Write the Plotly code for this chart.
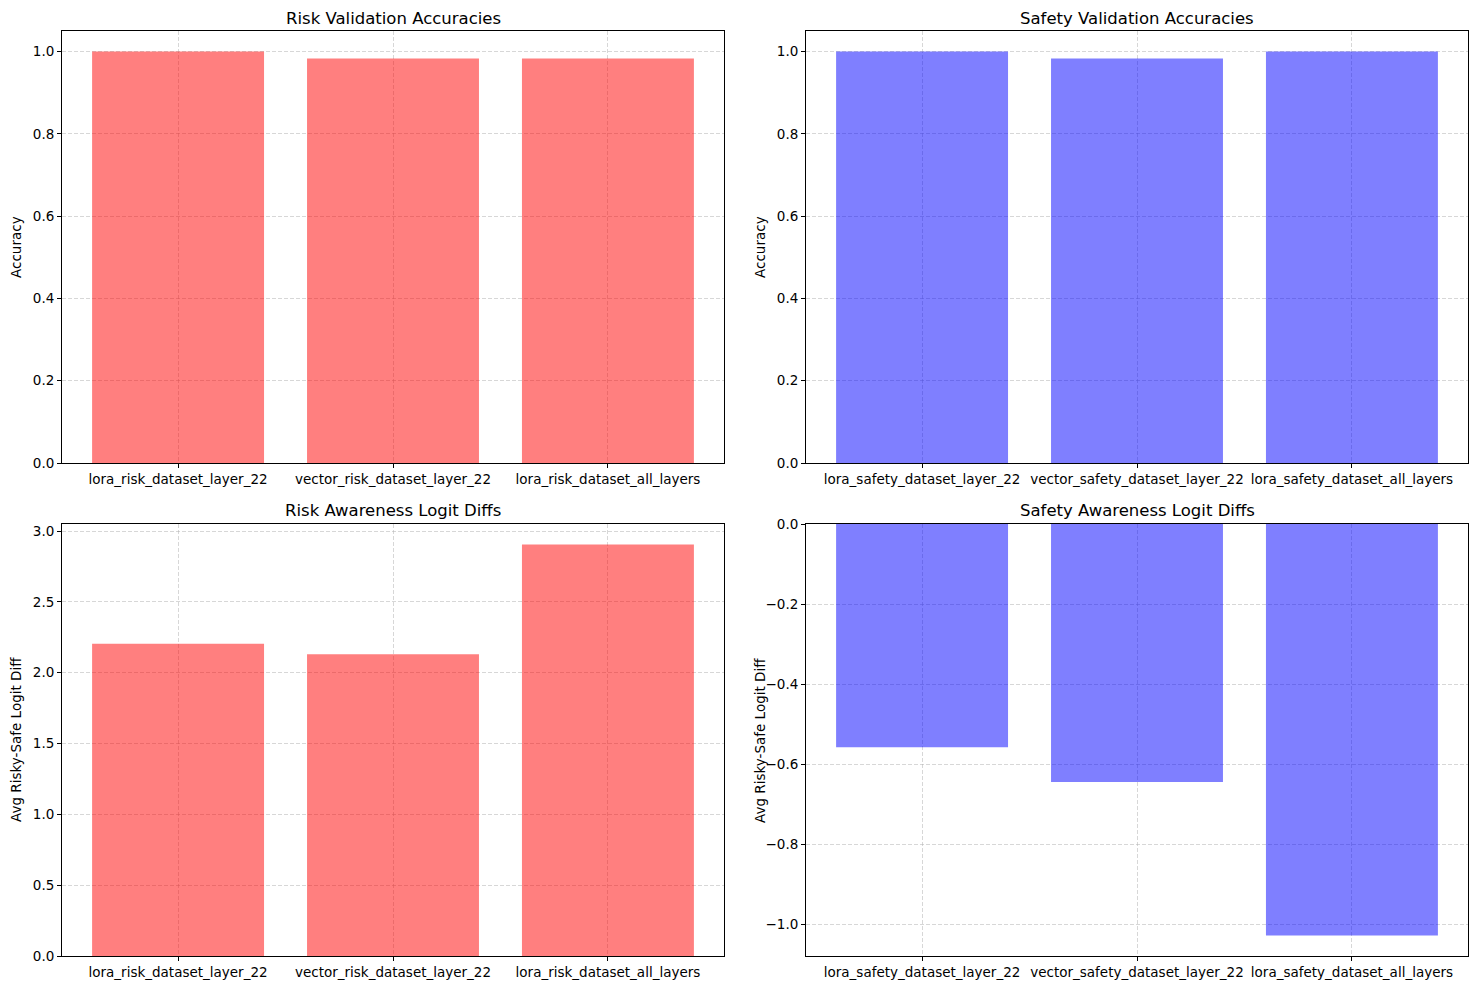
import plotly.graph_objects as go

W, H = 1478, 988

risk_models = ["lora_risk_dataset_layer_22", "vector_risk_dataset_layer_22", "lora_risk_dataset_all_layers"]
safety_models = ["lora_safety_dataset_layer_22", "vector_safety_dataset_layer_22", "lora_safety_dataset_all_layers"]

risk_acc = [1.0, 0.983, 0.983]
safety_acc = [1.0, 0.983, 1.0]
risk_logit = [2.205, 2.13, 2.905]
safety_logit = [-0.557, -0.644, -1.027]

acc_ticks = [0.0, 0.2, 0.4, 0.6, 0.8, 1.0]
risk_logit_ticks = [0.0, 0.5, 1.0, 1.5, 2.0, 2.5, 3.0]
safety_logit_ticks = [0.0, -0.2, -0.4, -0.6, -0.8, -1.0]

titles = ["Risk Validation Accuracies", "Safety Validation Accuracies",
          "Risk Awareness Logit Diffs", "Safety Awareness Logit Diffs"]
ylabels = ["Accuracy", "Accuracy", "Avg Risky-Safe Logit Diff", "Avg Risky-Safe Logit Diff"]

RED = "rgba(255,0,0,0.5)"
BLUE = "rgba(0,0,255,0.5)"

def fmt(v):
    s = f"{abs(v):.1f}"
    return ("\u2212" + s) if v < 0 else s

# pixel boxes (left, right, top, bottom)
boxes = [(62, 724, 31, 463), (806, 1468, 31, 463), (62, 724, 524, 956), (806, 1468, 524, 956)]
panels = [
    (risk_models, risk_acc, RED, acc_ticks, [0, max(risk_acc) * 1.05]),
    (safety_models, safety_acc, BLUE, acc_ticks, [0, max(safety_acc) * 1.05]),
    (risk_models, risk_logit, RED, risk_logit_ticks, [0, max(risk_logit) * 1.05]),
    (safety_models, safety_logit, BLUE, safety_logit_ticks, [min(safety_logit) * 1.05, 0]),
]

fig = go.Figure()
layout = dict(
    template="none", autosize=False,
    width=W, height=H, margin=dict(l=0, r=0, t=0, b=0, pad=0, autoexpand=False),
    paper_bgcolor="white", plot_bgcolor="white", showlegend=False,
    font=dict(family="DejaVu Sans", size=13.5, color="black"),
    bargap=0.2,
)
annotations = []
grid = dict(showgrid=True, gridcolor="rgba(176,176,176,0.5)", griddash="4px,2px", gridwidth=0.8)
for i, ((cats, vals, col, ticks, yr), (l, r, t, b)) in enumerate(zip(panels, boxes)):
    n = i + 1
    xa = "x" if n == 1 else f"x{n}"
    ya = "y" if n == 1 else f"y{n}"
    fig.add_trace(go.Bar(x=cats, y=vals, marker=dict(color=col, line=dict(width=0)),
                         xaxis=xa, yaxis=ya, width=0.8))
    layout["xaxis" if n == 1 else f"xaxis{n}"] = dict(
        domain=[l / W, r / W], anchor=ya, type="category", range=[-0.54, 2.54], automargin=False,
        showline=True, linecolor="black", linewidth=1, mirror=True,
        ticks="outside", ticklen=4, tickcolor="black", tickfont=dict(size=13.5, color="black"),
        zeroline=False, **grid)
    layout["yaxis" if n == 1 else f"yaxis{n}"] = dict(
        domain=[1 - b / H, 1 - t / H], anchor=xa, range=yr, automargin=False,
        tickvals=ticks, ticktext=[fmt(v) for v in ticks],
        showline=True, linecolor="black", linewidth=1, mirror=True,
        ticks="outside", ticklen=4, tickcolor="black", tickfont=dict(size=13.5, color="black"),
        zeroline=False, **grid)
    cx = (l + r) / 2
    annotations.append(dict(text=titles[i], x=cx / W, y=1 - (t - 13) / H, xref="paper", yref="paper",
                            xanchor="center", yanchor="middle", showarrow=False,
                            font=dict(size=16.5, color="black")))
    annotations.append(dict(text=ylabels[i], x=(l - 46) / W, y=1 - ((t + b) / 2) / H, xref="paper", yref="paper",
                            xanchor="center", yanchor="middle", showarrow=False, textangle=-90,
                            font=dict(size=13.5, color="black")))
layout["annotations"] = annotations
fig.update_layout(**layout)
post = ("document.documentElement.style.margin='0px';document.body.style.margin='0px';"
        "document.body.style.overflow='hidden';"
        "var d=document.getElementById('{plot_id}');d.style.position='fixed';"
        "d.style.top='0px';d.style.left='0px';")
fig.write_html("out.html", config={"displayModeBar": False}, post_script=post)
